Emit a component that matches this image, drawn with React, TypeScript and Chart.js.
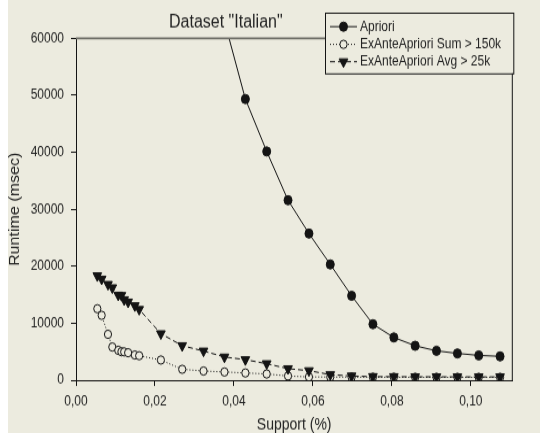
import React, { useEffect, useRef } from "react";
import { Chart, registerables } from "chart.js";

Chart.register(...registerables);

// ---------- data ----------
const supportValues = [
  0.0054, 0.0065, 0.0081, 0.0092, 0.0107, 0.0115, 0.0122, 0.0132, 0.0149, 0.016,
  0.0215, 0.0269, 0.0323, 0.0376, 0.0429, 0.0483, 0.0537, 0.059, 0.0644, 0.0698,
  0.0752, 0.0805, 0.0859, 0.0913, 0.0966, 0.102, 0.1074,
];
const sumRuntime = [
  12560, 11400, 8070, 5840, 5260, 5020, 4990, 4840, 4440, 4310,
  3560, 1930, 1630, 1460, 1290, 1110, 760, 600, 580, 560,
  540, 540, 530, 530, 520, 520, 520,
];
const avgRuntime = [
  18340, 17760, 16830, 16240, 14950, 14900, 14140, 13730, 13090, 12440,
  8180, 6080, 5140, 4090, 3620, 2920, 2040, 1690, 990, 760,
  650, 640, 620, 620, 610, 600, 600,
];
const aprioriSupport = [
  0.0376, 0.0429, 0.0483, 0.0537, 0.059, 0.0644, 0.0698, 0.0752, 0.0805, 0.0859,
  0.0913, 0.0966, 0.102, 0.1074,
];
const aprioriRuntime = [
  63000, 49350, 40150, 31600, 25750, 20330, 14830, 9850, 7520, 6060,
  5180, 4720, 4370, 4200,
];
const xTickValues = [0, 0.02, 0.04, 0.06, 0.08, 0.1];
const seriesLabels = ["Apriori", "ExAnteApriori Sum > 150k", "ExAnteApriori Avg > 25k"];
const chartTitle = 'Dataset "Italian"';
const xTitle = "Support (%)";
const yTitle = "Runtime (msec)";

// ---------- look ----------
const W = 532;
const H = 377;
const CSS_H = 433;
const BG = "#ecebdf";
const INK = "#141414";
const TEXT = "#232323";
const FONT = "'Liberation Sans', Arial, Helvetica, sans-serif";

const toPoints = (xs: number[], ys: number[]) => xs.map((x, i) => ({ x, y: ys[i] }));

function drawMarker(ctx: CanvasRenderingContext2D, kind: string, x: number, y: number) {
  ctx.save();
  ctx.setLineDash([]);
  ctx.lineWidth = 1;
  ctx.strokeStyle = INK;
  ctx.beginPath();
  if (kind === "filled") {
    ctx.fillStyle = INK;
    ctx.arc(x, y, 4, 0, Math.PI * 2);
    ctx.fill();
    ctx.stroke();
  } else if (kind === "open") {
    ctx.fillStyle = BG;
    ctx.arc(x, y, 3.6, 0, Math.PI * 2);
    ctx.fill();
    ctx.stroke();
  } else {
    const r = 5;
    ctx.fillStyle = INK;
    ctx.moveTo(x, y + r);
    ctx.lineTo(x - r * Math.sin(Math.PI / 3), y - r / 2);
    ctx.lineTo(x + r * Math.sin(Math.PI / 3), y - r / 2);
    ctx.closePath();
    ctx.fill();
    ctx.stroke();
  }
  ctx.restore();
}

const decoPlugin = {
  id: "deco",
  beforeDraw(chart: any) {
    const { ctx, width, height } = chart;
    ctx.save();
    ctx.fillStyle = BG;
    ctx.fillRect(0, 0, width, height);
    ctx.restore();
  },
  afterDraw(chart: any) {
    const { ctx, chartArea: a } = chart;
    ctx.save();
    // frame: top (grey) and right (black)
    ctx.strokeStyle = "#6f6f68";
    ctx.lineWidth = 1.6;
    ctx.beginPath();
    ctx.moveTo(a.left, a.top);
    ctx.lineTo(a.right, a.top);
    ctx.stroke();
    ctx.strokeStyle = INK;
    ctx.lineWidth = 1;
    ctx.beginPath();
    ctx.moveTo(a.right, a.top);
    ctx.lineTo(a.right, a.bottom);
    ctx.stroke();

    // legend box
    const bx = 317, by = 11, bw = 188.3, bh = 52.8;
    ctx.fillStyle = BG;
    ctx.fillRect(bx, by, bw, bh);
    ctx.strokeStyle = INK;
    ctx.lineWidth = 1;
    ctx.strokeRect(bx + 0.5, by + 0.5, bw, bh);

    const rows = [23.2, 38.6, 53.7];
    const dashes = [[], [1, 2], [5, 3]];
    const kinds = ["filled", "open", "tri"];
    ctx.font = `12px ${FONT}`;
    ctx.textBaseline = "middle";
    ctx.textAlign = "left";
    rows.forEach((ry, i) => {
      ctx.save();
      ctx.strokeStyle = INK;
      ctx.lineWidth = 1;
      ctx.setLineDash(dashes[i]);
      ctx.beginPath();
      ctx.moveTo(322, ry);
      ctx.lineTo(349, ry);
      ctx.stroke();
      ctx.restore();
      drawMarker(ctx, kinds[i], 335.5, ry);
      ctx.fillStyle = TEXT;
      ctx.fillText(seriesLabels[i], 352, ry);
    });

    // title
    ctx.font = `16px ${FONT}`;
    ctx.fillStyle = TEXT;
    ctx.textAlign = "center";
    ctx.textBaseline = "alphabetic";
    ctx.fillText(chartTitle, 217.8, 24.4);
    ctx.restore();
  },
};

export default function App() {
  const ref = useRef<HTMLCanvasElement>(null);

  useEffect(() => {
    if (!ref.current) return;
    const axisCommon = {
      grid: {
        drawOnChartArea: false,
        drawTicks: true,
        tickLength: 5,
        tickColor: INK,
        tickWidth: 1,
      },
      border: { display: true, color: INK, width: 1 },
    };
    const chart = new Chart(ref.current, {
      type: "line",
      data: {
        datasets: [
          {
            label: seriesLabels[0],
            data: toPoints(aprioriSupport, aprioriRuntime),
            borderColor: INK,
            borderWidth: 1,
            pointStyle: "circle",
            pointRadius: 4,
            pointBackgroundColor: INK,
            pointBorderColor: INK,
            pointBorderWidth: 1,
            tension: 0,
            order: 1,
          },
          {
            label: seriesLabels[1],
            data: toPoints(supportValues, sumRuntime),
            borderColor: INK,
            borderWidth: 1,
            borderDash: [1, 2],
            pointStyle: "circle",
            pointRadius: 3.6,
            pointBackgroundColor: BG,
            pointBorderColor: INK,
            pointBorderWidth: 1,
            tension: 0,
            order: 2,
          },
          {
            label: seriesLabels[2],
            data: toPoints(supportValues, avgRuntime),
            borderColor: INK,
            borderWidth: 1,
            borderDash: [5, 3],
            pointStyle: "triangle",
            pointRotation: 180,
            pointRadius: 5,
            pointBackgroundColor: INK,
            pointBorderColor: INK,
            pointBorderWidth: 1,
            tension: 0,
            order: 0,
          },
        ],
      },
      options: {
        responsive: false,
        animation: false,
        devicePixelRatio: 1,
        events: [],
        layout: { padding: { top: 33.35, right: 27.7, left: 0, bottom: 0 } },
        plugins: {
          legend: { display: false },
          title: { display: false },
          tooltip: { enabled: false },
        },
        scales: {
          x: {
            type: "linear",
            min: 0,
            max: 0.1105,
            ...axisCommon,
            afterBuildTicks: (s: any) => {
              s.ticks = xTickValues.map((v) => ({ value: v }));
            },
            afterFit: (s: any) => {
              s.height = 45.9;
            },
            ticks: {
              padding: 6,
              color: TEXT,
              font: { family: FONT, size: 12 },
              maxRotation: 0,
              autoSkip: false,
              callback: (v: any) => Number(v).toFixed(2).replace(".", ","),
            },
            title: {
              display: true,
              text: xTitle,
              color: TEXT,
              font: { family: FONT, size: 14, lineHeight: 1.05 },
              padding: 0,
            },
          },
          y: {
            type: "linear",
            min: 0,
            max: 60000,
            ...axisCommon,
            afterFit: (s: any) => {
              s.width = 68;
            },
            ticks: {
              stepSize: 10000,
              padding: 7,
              color: TEXT,
              font: { family: FONT, size: 12 },
              callback: (v: any) => String(v),
            },
            title: {
              display: true,
              text: yTitle,
              color: TEXT,
              font: { family: FONT, size: 14, lineHeight: 1 },
              padding: 0,
            },
          },
        },
      },
      plugins: [decoPlugin],
    } as any);
    return () => chart.destroy();
  }, []);

  return (
    <div style={{ position: "fixed", left: 8, top: 0, width: W, height: CSS_H }}>
      <canvas
        ref={ref}
        width={W}
        height={H}
        style={{ width: `${W}px`, height: `${CSS_H}px`, display: "block" }}
      />
    </div>
  );
}
